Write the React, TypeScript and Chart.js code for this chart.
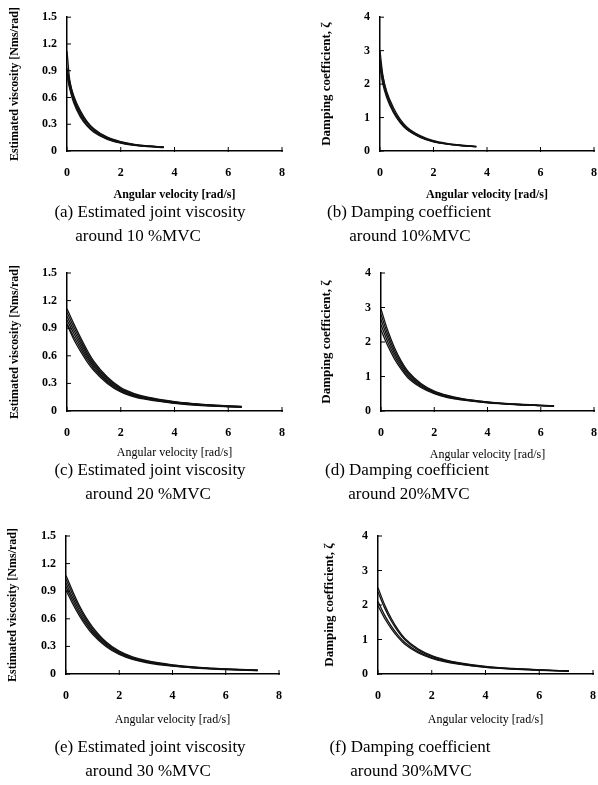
import React, { useEffect, useRef } from 'react';
import { Chart, registerables } from 'chart.js';

Chart.register(...registerables);

// ---------------- data ----------------
const velocityTicks = [0, 2, 4, 6, 8];
const viscosityTicks = [0, 0.3, 0.6, 0.9, 1.2, 1.5];
const dampingTicks = [0, 1, 2, 3, 4];

// (a) viscosity, 10 %MVC
const velA = [0, 0.1, 0.25, 0.5, 0.75, 1, 1.5, 2, 2.5, 3, 3.6];
const viscA1 = [0.93, 0.78, 0.62, 0.45, 0.33, 0.25, 0.155, 0.105, 0.075, 0.058, 0.045];
const viscA2 = [0.9, 0.75, 0.59, 0.42, 0.31, 0.235, 0.145, 0.098, 0.07, 0.054, 0.042];
const viscA3 = [0.87, 0.72, 0.56, 0.4, 0.29, 0.22, 0.137, 0.092, 0.066, 0.051, 0.04];
const viscA4 = [0.85, 0.7, 0.54, 0.38, 0.28, 0.21, 0.13, 0.088, 0.063, 0.049, 0.038];
const viscA5 = [1.12, 0.8, 0.6, 0.43, 0.32, 0.24, 0.15, 0.1, 0.072, 0.056, 0.043];

// (b) damping, 10 %MVC
const velB = [0, 0.1, 0.25, 0.5, 0.75, 1, 1.5, 2, 2.5, 3, 3.6];
const dampB1 = [2.75, 2.25, 1.78, 1.3, 0.95, 0.72, 0.46, 0.31, 0.23, 0.18, 0.14];
const dampB2 = [2.6, 2.12, 1.68, 1.22, 0.9, 0.68, 0.43, 0.29, 0.215, 0.17, 0.13];
const dampB3 = [2.5, 2.02, 1.6, 1.15, 0.85, 0.64, 0.41, 0.275, 0.205, 0.16, 0.125];
const dampB4 = [3.0, 2.3, 1.72, 1.2, 0.88, 0.66, 0.42, 0.28, 0.21, 0.165, 0.128];

// (c) viscosity, 20 %MVC
const velC = [0, 0.25, 0.5, 0.75, 1, 1.5, 2, 2.5, 3, 4, 5, 6, 6.5];
const viscC1 = [1.11, 0.95, 0.8, 0.66, 0.54, 0.37, 0.255, 0.19, 0.15, 0.102, 0.073, 0.056, 0.05];
const viscC2 = [1.07, 0.915, 0.77, 0.635, 0.52, 0.355, 0.245, 0.182, 0.145, 0.099, 0.071, 0.054, 0.048];
const viscC3 = [1.03, 0.88, 0.74, 0.61, 0.5, 0.34, 0.235, 0.175, 0.14, 0.095, 0.068, 0.052, 0.046];
const viscC4 = [0.99, 0.845, 0.71, 0.585, 0.48, 0.326, 0.226, 0.168, 0.134, 0.091, 0.065, 0.05, 0.044];
const viscC5 = [0.95, 0.81, 0.68, 0.56, 0.46, 0.313, 0.216, 0.161, 0.129, 0.087, 0.063, 0.048, 0.042];
const viscC6 = [0.94, 0.78, 0.65, 0.535, 0.44, 0.3, 0.207, 0.154, 0.123, 0.084, 0.06, 0.046, 0.041];

// (d) damping, 20 %MVC
const velD = [0, 0.25, 0.5, 0.75, 1, 1.5, 2, 2.5, 3, 4, 5, 6, 6.5];
const dampD1 = [2.95, 2.34, 1.85, 1.46, 1.16, 0.8, 0.58, 0.45, 0.365, 0.262, 0.203, 0.165, 0.15];
const dampD2 = [2.8, 2.23, 1.76, 1.4, 1.11, 0.77, 0.56, 0.435, 0.355, 0.256, 0.199, 0.162, 0.147];
const dampD3 = [2.65, 2.12, 1.68, 1.34, 1.07, 0.74, 0.54, 0.42, 0.345, 0.25, 0.195, 0.16, 0.145];
const dampD4 = [2.5, 2.01, 1.6, 1.28, 1.02, 0.71, 0.52, 0.405, 0.335, 0.244, 0.191, 0.157, 0.142];
const dampD5 = [2.35, 1.9, 1.52, 1.22, 0.97, 0.68, 0.5, 0.39, 0.325, 0.238, 0.187, 0.154, 0.14];

// (e) viscosity, 30 %MVC
const velE = [0, 0.25, 0.5, 0.75, 1, 1.5, 2, 2.5, 3, 4, 5, 6, 7.2];
const viscE1 = [1.07, 0.9, 0.745, 0.615, 0.51, 0.35, 0.248, 0.186, 0.147, 0.099, 0.072, 0.056, 0.043];
const viscE2 = [1.03, 0.865, 0.72, 0.593, 0.49, 0.338, 0.239, 0.179, 0.141, 0.096, 0.07, 0.054, 0.042];
const viscE3 = [0.99, 0.83, 0.69, 0.57, 0.47, 0.325, 0.23, 0.172, 0.136, 0.092, 0.067, 0.052, 0.04];
const viscE4 = [0.95, 0.797, 0.662, 0.547, 0.451, 0.312, 0.221, 0.165, 0.131, 0.088, 0.064, 0.05, 0.038];
const viscE5 = [0.91, 0.764, 0.635, 0.524, 0.432, 0.299, 0.212, 0.158, 0.125, 0.085, 0.062, 0.048, 0.037];

// (f) damping, 30 %MVC
const velF = [0, 0.25, 0.5, 0.75, 1, 1.5, 2, 2.5, 3, 4, 5, 6, 7.1];
const dampF1 = [2.5, 2.0, 1.6, 1.28, 1.03, 0.72, 0.53, 0.41, 0.328, 0.22, 0.16, 0.122, 0.09];
const dampF2 = [2.38, 1.91, 1.53, 1.23, 0.99, 0.69, 0.51, 0.395, 0.317, 0.213, 0.155, 0.118, 0.087];
const dampF3 = [2.1, 1.7, 1.38, 1.12, 0.91, 0.64, 0.475, 0.37, 0.297, 0.2, 0.146, 0.112, 0.083];
const dampF4 = [1.98, 1.61, 1.31, 1.06, 0.86, 0.61, 0.455, 0.355, 0.285, 0.193, 0.141, 0.108, 0.08];

const xTitle = 'Angular velocity [rad/s]';
const viscTitle = 'Estimated viscosity [Nms/rad]';
const dampTitle = 'Damping coefficient, \u03B6';

// ---------------- layout ----------------
const FONT = '"Liberation Serif", "Times New Roman", serif';
const TICK_SIZE = 12;

type Spec = {
  key: string;
  box: [number, number, number, number]; // canvas left, top, width, height
  area: [number, number, number, number]; // chart area l, t, r, b (page coords)
  yTitleX: number;
  xTitleY: number;
  yTitle: string;
  yTitleSize: number;
  xTitleBold: boolean;
  yMax: number;
  yTicks: number[];
  xs: number[];
  series: number[][];
  caption: [string, number, number][]; // text, center x, center y
};

const panels: Spec[] = [
  {
    key: 'a', box: [0, 0, 300, 210], area: [67, 13, 282, 151], yTitleX: 15, xTitleY: 195,
    yTitle: viscTitle, yTitleSize: 12, xTitleBold: true, yMax: 1.5, yTicks: viscosityTicks, xs: velA,
    series: [viscA1, viscA2, viscA3, viscA4, viscA5],
    caption: [['(a) Estimated joint viscosity', 150, 212], ['around 10 %MVC', 138, 236]],
  },
  {
    key: 'b', box: [300, 0, 312, 210], area: [380, 13, 596, 151], yTitleX: 327, xTitleY: 195,
    yTitle: dampTitle, yTitleSize: 13, xTitleBold: true, yMax: 4, yTicks: dampingTicks, xs: velB,
    series: [dampB1, dampB2, dampB3, dampB4],
    caption: [['(b) Damping coefficient', 409, 212], ['around 10%MVC', 410, 236]],
  },
  {
    key: 'c', box: [0, 250, 300, 230], area: [67, 273, 282, 411], yTitleX: 15, xTitleY: 453,
    yTitle: viscTitle, yTitleSize: 12, xTitleBold: false, yMax: 1.5, yTicks: viscosityTicks, xs: velC,
    series: [viscC1, viscC2, viscC3, viscC4, viscC5, viscC6],
    caption: [['(c) Estimated joint viscosity', 150, 470], ['around 20 %MVC', 148, 494]],
  },
  {
    key: 'd', box: [300, 250, 312, 230], area: [381, 273, 596, 411], yTitleX: 327, xTitleY: 455,
    yTitle: dampTitle, yTitleSize: 13, xTitleBold: false, yMax: 4, yTicks: dampingTicks, xs: velD,
    series: [dampD1, dampD2, dampD3, dampD4, dampD5],
    caption: [['(d) Damping coefficient', 407, 470], ['around 20%MVC', 409, 494]],
  },
  {
    key: 'e', box: [0, 515, 300, 240], area: [66, 536, 279, 674], yTitleX: 13, xTitleY: 720,
    yTitle: viscTitle, yTitleSize: 12, xTitleBold: false, yMax: 1.5, yTicks: viscosityTicks, xs: velE,
    series: [viscE1, viscE2, viscE3, viscE4, viscE5],
    caption: [['(e) Estimated joint viscosity', 150, 747], ['around 30 %MVC', 148, 771]],
  },
  {
    key: 'f', box: [300, 515, 312, 240], area: [378, 536, 593, 674], yTitleX: 330, xTitleY: 720,
    yTitle: dampTitle, yTitleSize: 13, xTitleBold: false, yMax: 4, yTicks: dampingTicks, xs: velF,
    series: [dampF1, dampF2, dampF3, dampF4],
    caption: [['(f) Damping coefficient', 410, 747], ['around 30%MVC', 411, 771]],
  },
];

const inwardTicks = {
  id: 'inwardTicks',
  afterDatasetsDraw(chart: any) {
    const { ctx, chartArea, scales } = chart;
    ctx.save();
    ctx.strokeStyle = '#000';
    ctx.lineWidth = 1;
    ctx.beginPath();
    scales.x.ticks.forEach((t: any) => {
      const px = scales.x.getPixelForValue(t.value);
      ctx.moveTo(px, chartArea.bottom + 1);
      ctx.lineTo(px, chartArea.bottom - 4);
    });
    scales.y.ticks.forEach((t: any) => {
      const py = scales.y.getPixelForValue(t.value);
      ctx.moveTo(chartArea.left - 1, py);
      ctx.lineTo(chartArea.left + 4, py);
    });
    ctx.stroke();
    ctx.restore();
  },
};

function Panel({ spec }: { spec: Spec }) {
  const ref = useRef<HTMLCanvasElement | null>(null);
  useEffect(() => {
    if (!ref.current) return;
    const [bx, by, bw, bh] = spec.box;
    const [l, t, r, b] = spec.area;
    const xTitleSize = 12;
    const ylh = spec.yTitleSize * 1.2;
    const xlh = xTitleSize * 1.2;
    const padLeft = spec.yTitleX - bx - ylh / 2;
    const yWidth = l - bx - padLeft;
    const padTop = t - by;
    const padRight = bx + bw - r;
    const xHeight = spec.xTitleY - b + xlh / 2;
    const padBottom = by + bh - b - xHeight;

    const datasets = spec.series.map((ys) => ({
      data: spec.xs.map((x, i) => ({ x, y: ys[i] })),
      borderColor: '#111',
      borderWidth: 1.3,
      pointRadius: 0,
      fill: false,
      cubicInterpolationMode: 'monotone' as const,
    }));

    const chart = new Chart(ref.current, {
      type: 'line',
      data: { datasets },
      options: {
        animation: false,
        responsive: false,
        maintainAspectRatio: false,
        layout: { padding: { left: padLeft, top: padTop, right: padRight, bottom: padBottom } },
        plugins: { legend: { display: false }, tooltip: { enabled: false } },
        scales: {
          x: {
            type: 'linear',
            min: 0,
            max: 8,
            afterBuildTicks: (s: any) => {
              s.ticks = velocityTicks.map((v) => ({ value: v }));
            },
            afterFit: (s: any) => {
              s.height = xHeight;
            },
            grid: { display: false, drawTicks: false },
            border: { display: true, color: '#000', width: 1.5 },
            ticks: {
              padding: 15,
              color: '#000',
              font: { family: FONT, size: TICK_SIZE, weight: 'bold' },
              maxRotation: 0,
            },
            title: {
              display: true,
              text: xTitle,
              color: '#000',
              padding: 0,
              font: { family: FONT, size: xTitleSize, weight: spec.xTitleBold ? 'bold' : 'normal' },
            },
          },
          y: {
            type: 'linear',
            min: 0,
            max: spec.yMax,
            afterBuildTicks: (s: any) => {
              s.ticks = spec.yTicks.map((v) => ({ value: v }));
            },
            afterFit: (s: any) => {
              s.width = yWidth;
            },
            grid: { display: false, drawTicks: false },
            border: { display: true, color: '#000', width: 1.5 },
            ticks: {
              padding: 10,
              color: '#000',
              font: { family: FONT, size: TICK_SIZE, weight: 'bold' },
              callback: (v: any) => {
                const n = Number(v);
                if (n === 0) return '0';
                return spec.yMax < 2 ? n.toFixed(1) : String(n);
              },
            },
            title: {
              display: true,
              text: spec.yTitle,
              color: '#000',
              padding: 0,
              font: { family: FONT, size: spec.yTitleSize, weight: 'bold' },
            },
          },
        },
      },
      plugins: [inwardTicks],
    });
    return () => chart.destroy();
  }, [spec]);

  const [bx, by, bw, bh] = spec.box;
  return (
    <canvas
      ref={ref}
      width={bw}
      height={bh}
      style={{ position: 'absolute', left: bx, top: by, width: bw, height: bh }}
    />
  );
}

export default function App() {
  return (
    <div
      style={{
        position: 'absolute',
        left: 0,
        top: 0,
        width: 598,
        height: 785,
        overflow: 'hidden',
        background: '#fff',
      }}
    >
      {panels.map((p) => (
        <Panel key={p.key} spec={p} />
      ))}
      {panels.map((p) =>
        p.caption.map(([text, cx, cy], i) => (
          <div
            key={p.key + i}
            style={{
              position: 'absolute',
              left: cx - 150,
              top: cy - 10,
              width: 300,
              height: 20,
              lineHeight: '20px',
              textAlign: 'center',
              fontFamily: FONT,
              fontSize: 17,
              color: '#000',
              whiteSpace: 'nowrap',
            }}
          >
            {text}
          </div>
        ))
      )}
    </div>
  );
}
